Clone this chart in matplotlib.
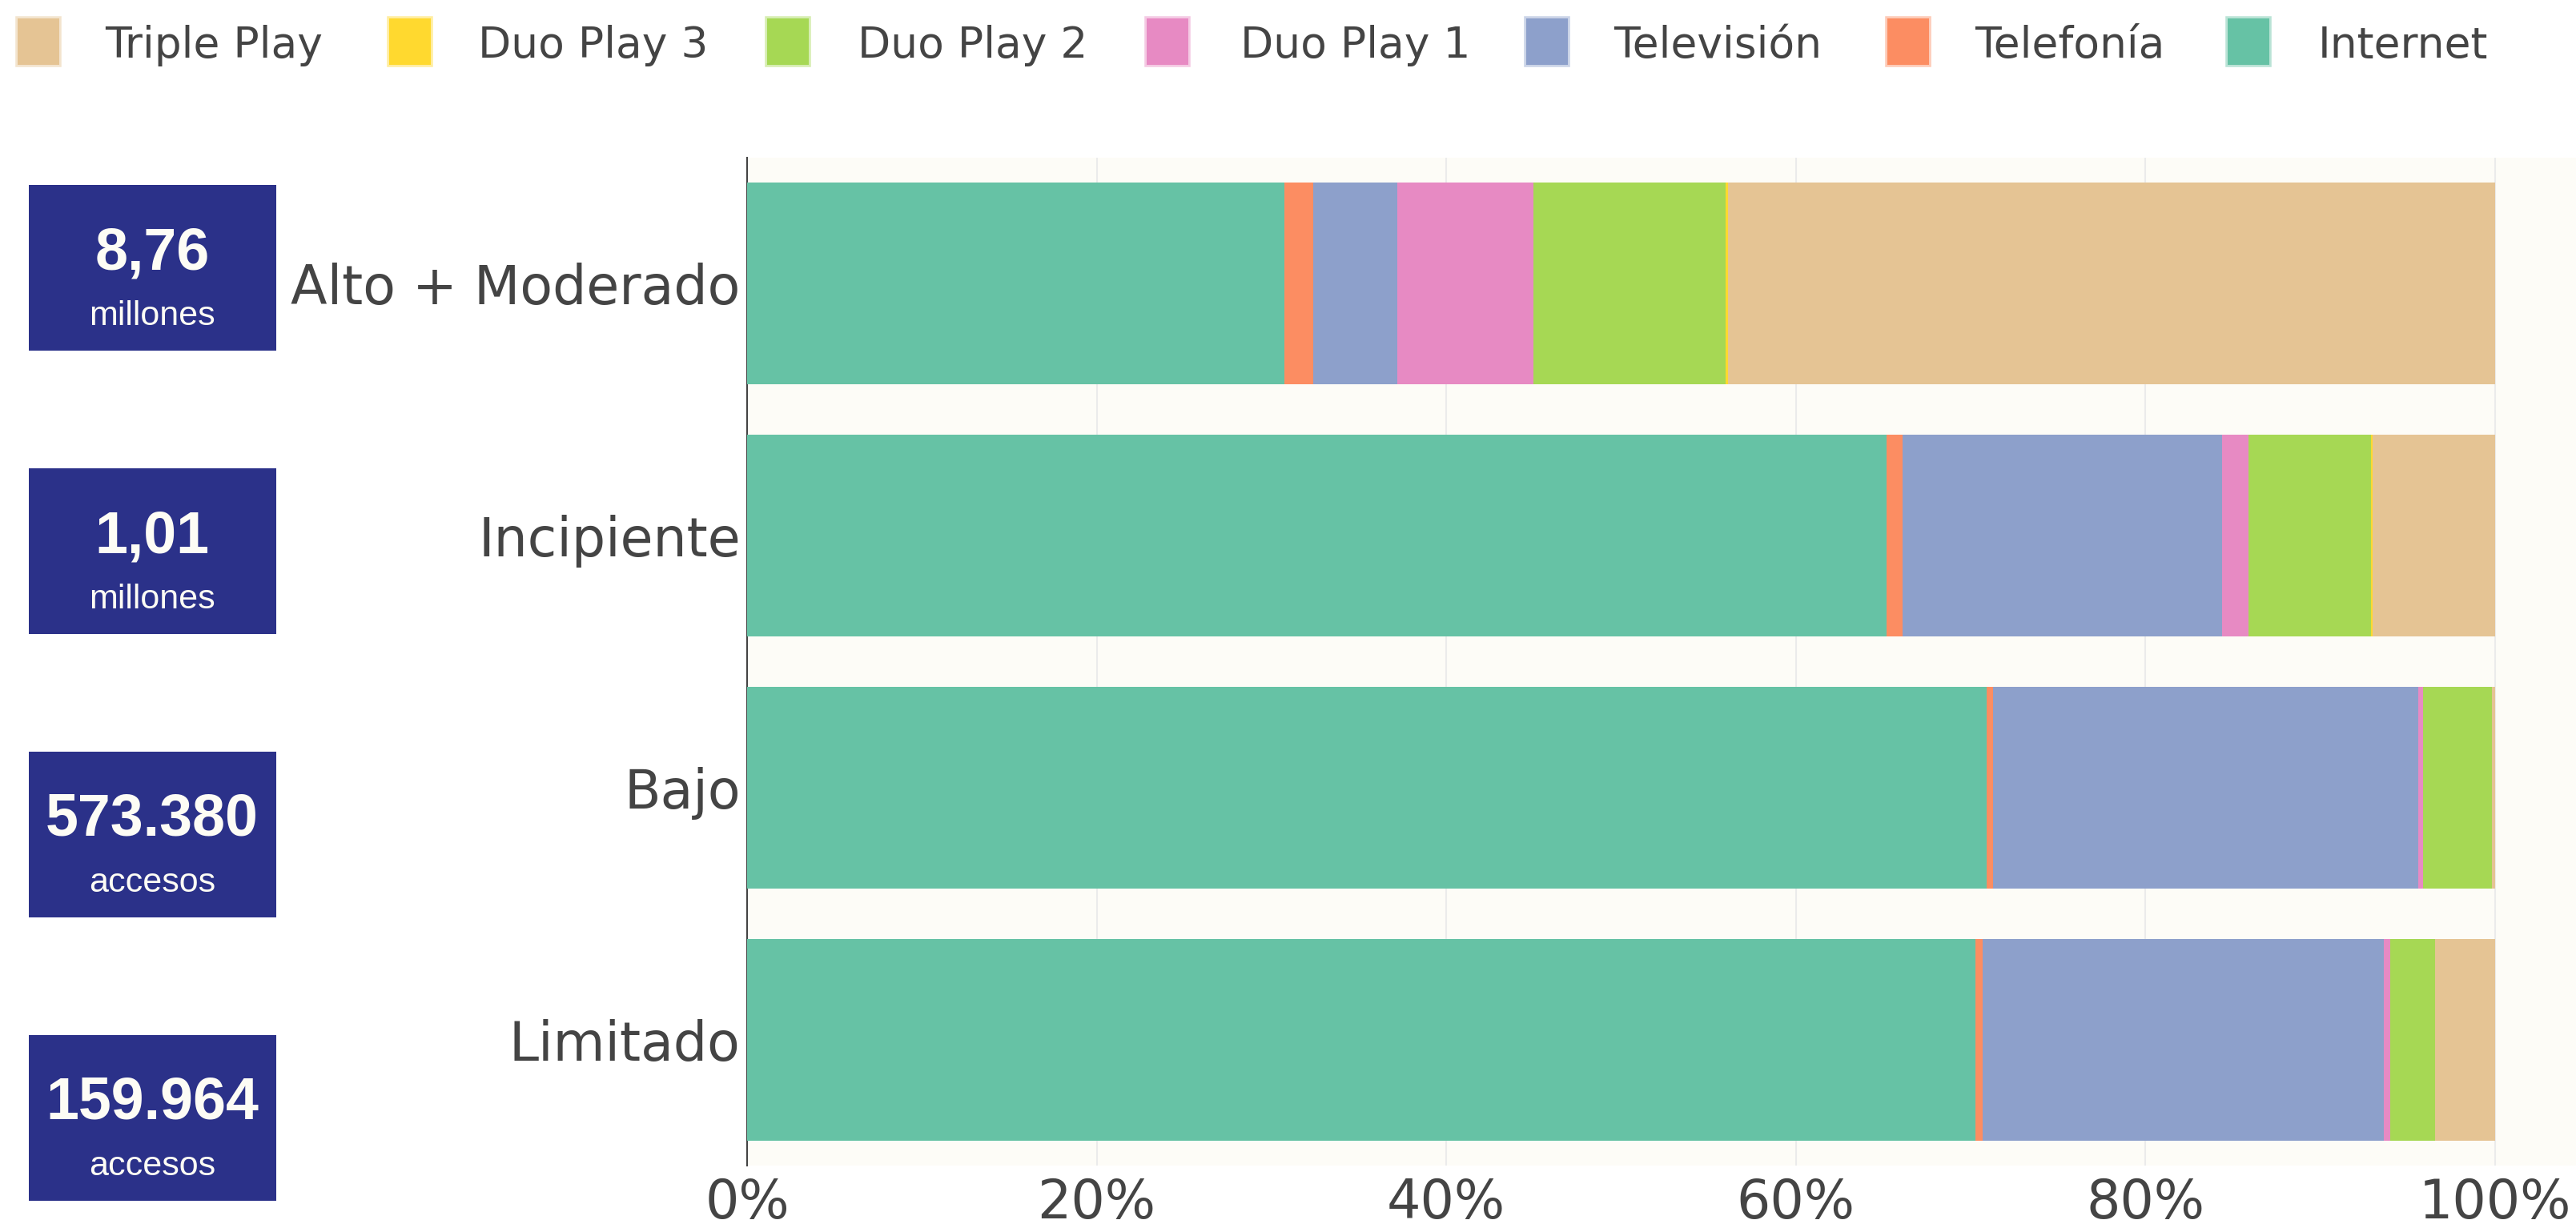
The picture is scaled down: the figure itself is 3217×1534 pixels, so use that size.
import matplotlib
matplotlib.use("Agg")
import matplotlib.pyplot as plt
from matplotlib import font_manager
from matplotlib.patches import Rectangle
from matplotlib.ticker import FuncFormatter

# data (share in %, top row first)
categories = ["Alto + Moderado", "Incipiente", "Bajo", "Limitado"]
internet = [30.75, 65.2, 70.9, 70.25]
telefonia = [1.65, 0.9, 0.4, 0.45]
television = [4.8, 18.3, 24.3, 22.95]
duo_play_1 = [7.8, 1.5, 0.3, 0.35]
duo_play_2 = [11.0, 7.0, 3.9, 2.55]
duo_play_3 = [0.1, 0.1, 0.0, 0.0]
triple_play = [43.9, 7.0, 0.2, 3.45]

series_names = ["Internet", "Telefonía", "Televisión", "Duo Play 1",
                "Duo Play 2", "Duo Play 3", "Triple Play"]
series_values = [internet, telefonia, television, duo_play_1,
                 duo_play_2, duo_play_3, triple_play]
colors = ["#66c2a5", "#fc8d62", "#8da0cb", "#e78ac3",
          "#a6d854", "#ffd92f", "#e5c494"]

box_numbers = ["8,76", "1,01", "573.380", "159.964"]
box_units = ["millones", "millones", "accesos", "accesos"]

W, H = 3217, 1534
fig = plt.figure(figsize=(W / 100, H / 100), dpi=100)
fig.patch.set_facecolor("white")

def fx(px):
    return px / W

def fy(py):
    return 1 - py / H

ax = fig.add_axes([fx(933), fy(1456), fx(3217 - 933), (1456 - 197) / H])
ax.set_facecolor("#fdfcf7")

ypos = list(range(len(categories)))
left = [0.0] * len(categories)
for name, vals, col in zip(series_names, series_values, colors):
    frac = [v / 100 for v in vals]
    ax.barh(ypos, frac, left=left, height=0.8, color=col, label=name,
            edgecolor="none", zorder=3)
    left = [a + b for a, b in zip(left, frac)]

ax.set_ylim(3.5, -0.5)
ax.set_xlim(0, (3217 - 933) / 2183)
ax.set_yticks(ypos)
ax.set_yticklabels(categories)
ax.set_xticks([0, 0.2, 0.4, 0.6, 0.8, 1.0])
ax.xaxis.set_major_formatter(FuncFormatter(lambda v, p: f"{v * 100:.0f}%"))
ax.tick_params(axis="both", length=0, labelsize=48, labelcolor="#444444")
ax.tick_params(axis="x", pad=10)
ax.tick_params(axis="y", pad=6)
ax.grid(axis="x", color="#ebebeb", linewidth=1.5, zorder=0)
for s in ["top", "right", "bottom"]:
    ax.spines[s].set_visible(False)
ax.spines["left"].set_color("#444444")
ax.spines["left"].set_linewidth(1.5)
ax.spines["left"].set_zorder(2)

# legend across the top (reverse order)
leg_marker_x = [22, 486, 958, 1432, 1906, 2357, 2782]
leg_text_x = [131, 597, 1071, 1549, 2015, 2466, 2895]
for i, (name, col) in enumerate(zip(series_names[::-1], colors[::-1])):
    fig.add_artist(Rectangle((fx(leg_marker_x[i]), fy(81)), 52 / W, 58 / H,
                             transform=fig.transFigure, facecolor=col,
                             edgecolor=matplotlib.colors.to_rgba(col, 0.45),
                             linewidth=4))
    fig.text(fx(leg_text_x[i]), fy(72), name, fontsize=38.5, color="#444444",
             ha="left", va="baseline")

# summary boxes on the left (narrow font if the system has one)
installed = {f.name for f in font_manager.fontManager.ttflist}
if "Liberation Sans Narrow" in installed:
    box_font, num_size, unit_size = "Liberation Sans Narrow", 61, 37
else:
    box_font, num_size, unit_size = "Liberation Sans", 53, 31

box_tops = [231, 585, 939, 1293]
for top, num, unit in zip(box_tops, box_numbers, box_units):
    fig.add_artist(Rectangle((fx(36), fy(top + 207)), 309 / W, 207 / H,
                             transform=fig.transFigure, facecolor="#2b3189",
                             edgecolor="none"))
    fig.text(fx(190), fy(top + 105), num, fontsize=num_size, fontweight="bold",
             color="#fdfcf5", ha="center", va="baseline", family=box_font)
    fig.text(fx(190), fy(top + 175), unit, fontsize=unit_size, color="#fdfcf5",
             ha="center", va="baseline", family=box_font)

fig.savefig("out.png", dpi=100)
